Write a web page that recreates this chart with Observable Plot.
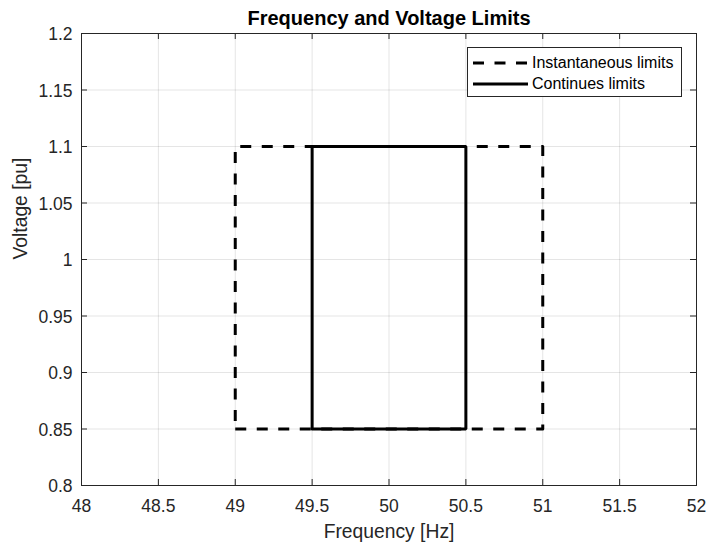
<!DOCTYPE html>
<html>
<head>
<meta charset="utf-8">
<script src="https://cdn.jsdelivr.net/npm/d3@7"></script>
<script src="https://cdn.jsdelivr.net/npm/@observablehq/plot@0.6"></script>
<style>
  html, body { margin: 0; padding: 0; background: #fff; }
  #wrap { position: relative; width: 707px; height: 543px; font-family: "Liberation Sans", Arial, sans-serif; }
  #legend { position: absolute; left: 467px; top: 47px; width: 215px; height: 50px;
            border: 1px solid #262626; background: #fff; box-sizing: border-box; }
  #legend .row { position: absolute; left: 0; height: 20px; display: flex; align-items: center; }
  #legend .row svg { display: block; }
  #legend .row span { font-size: 16px; color: #000; margin-left: 4px; line-height: 20px; }
</style>
</head>
<body>
<div id="wrap"></div>
<script>
// Frequency / voltage limit boxes (closed rectangles)
const instFreq = [49, 51, 51, 49, 49];
const instVolt = [0.85, 0.85, 1.1, 1.1, 0.85];
const contFreq = [49.5, 50.5, 50.5, 49.5, 49.5];
const contVolt = [0.85, 0.85, 1.1, 1.1, 0.85];

const xTicks = [48, 48.5, 49, 49.5, 50, 50.5, 51, 51.5, 52];
const yTicks = [0.8, 0.85, 0.9, 0.95, 1, 1.05, 1.1, 1.15, 1.2];

const seriesNames = ["Instantaneous limits", "Continues limits"];

const inst = instFreq.map((f, i) => ({f, v: instVolt[i]}));
const cont = contFreq.map((f, i) => ({f, v: contVolt[i]}));

const axisColor = "#262626";
const dash = "11,10.5";
const W = 707, H = 543;
const mL = 81, mR = 11, mT = 33, mB = 58;
const fw = W - mL - mR, fh = H - mT - mB;
const tick = 6;

const chart = Plot.plot({
  width: W,
  height: H,
  marginLeft: mL, marginRight: mR, marginTop: mT, marginBottom: mB,
  style: {fontFamily: "Liberation Sans, Arial, sans-serif", fontSize: "17.5px", color: "#262626", background: "#fff", overflow: "visible"},
  x: {domain: [48, 52]},
  y: {domain: [0.8, 1.2]},
  marks: [
    Plot.gridX(xTicks, {stroke: axisColor, strokeOpacity: 0.12}),
    Plot.gridY(yTicks, {stroke: axisColor, strokeOpacity: 0.12}),
    // inward tick marks on all four sides
    Plot.tickX(xTicks, {x: d => d, stroke: axisColor, insetTop: fh - tick}),
    Plot.tickX(xTicks, {x: d => d, stroke: axisColor, insetBottom: fh - tick}),
    Plot.tickY(yTicks, {y: d => d, stroke: axisColor, insetRight: fw - tick}),
    Plot.tickY(yTicks, {y: d => d, stroke: axisColor, insetLeft: fw - tick}),
    Plot.axisX(xTicks, {tickSize: 0, tickPadding: 14, fontSize: 17.5, fill: axisColor,
      tickFormat: d => String(d),
      label: null}),
    Plot.axisY(yTicks, {tickSize: 0, tickPadding: 9, fontSize: 17.5, fill: axisColor, dy: 1,
      tickFormat: d => String(d),
      label: null}),
    Plot.text(["Frequency [Hz]"], {frameAnchor: "bottom", dy: 52, lineAnchor: "bottom", fontSize: 19.3, fill: axisColor}),
    Plot.text(["Voltage [pu]"], {frameAnchor: "left", dx: -68, rotate: -90, lineAnchor: "top", fontSize: 19.3, fill: axisColor}),
    Plot.frame({stroke: axisColor, strokeWidth: 1}),
    Plot.line(inst, {x: "f", y: "v", stroke: "#000", strokeWidth: 3, strokeDasharray: dash, strokeLinecap: "butt"}),
    Plot.line(cont, {x: "f", y: "v", stroke: "#000", strokeWidth: 3, strokeLinejoin: "miter"}),
    Plot.text(["Frequency and Voltage Limits"], {frameAnchor: "top", dy: -9, lineAnchor: "bottom", fontWeight: "bold", fontSize: 20, fill: "#000"})
  ]
});

const wrap = document.getElementById("wrap");
wrap.appendChild(chart);

// legend box in the upper right corner
const legend = document.createElement("div");
legend.id = "legend";
const dashes = [dash, null];
seriesNames.forEach((name, i) => {
  const row = document.createElement("div");
  row.className = "row";
  row.style.top = (5 + i * 21) + "px";
  const sw = document.createElementNS("http://www.w3.org/2000/svg", "svg");
  sw.setAttribute("width", 60);
  sw.setAttribute("height", 20);
  const ln = document.createElementNS("http://www.w3.org/2000/svg", "line");
  ln.setAttribute("x1", 5); ln.setAttribute("x2", 60);
  ln.setAttribute("y1", 10); ln.setAttribute("y2", 10);
  ln.setAttribute("stroke", "#000");
  ln.setAttribute("stroke-width", 3);
  if (dashes[i]) ln.setAttribute("stroke-dasharray", dashes[i]);
  sw.appendChild(ln);
  const t = document.createElement("span");
  t.textContent = name;
  row.appendChild(sw);
  row.appendChild(t);
  legend.appendChild(row);
});
wrap.appendChild(legend);
</script>
</body>
</html>
